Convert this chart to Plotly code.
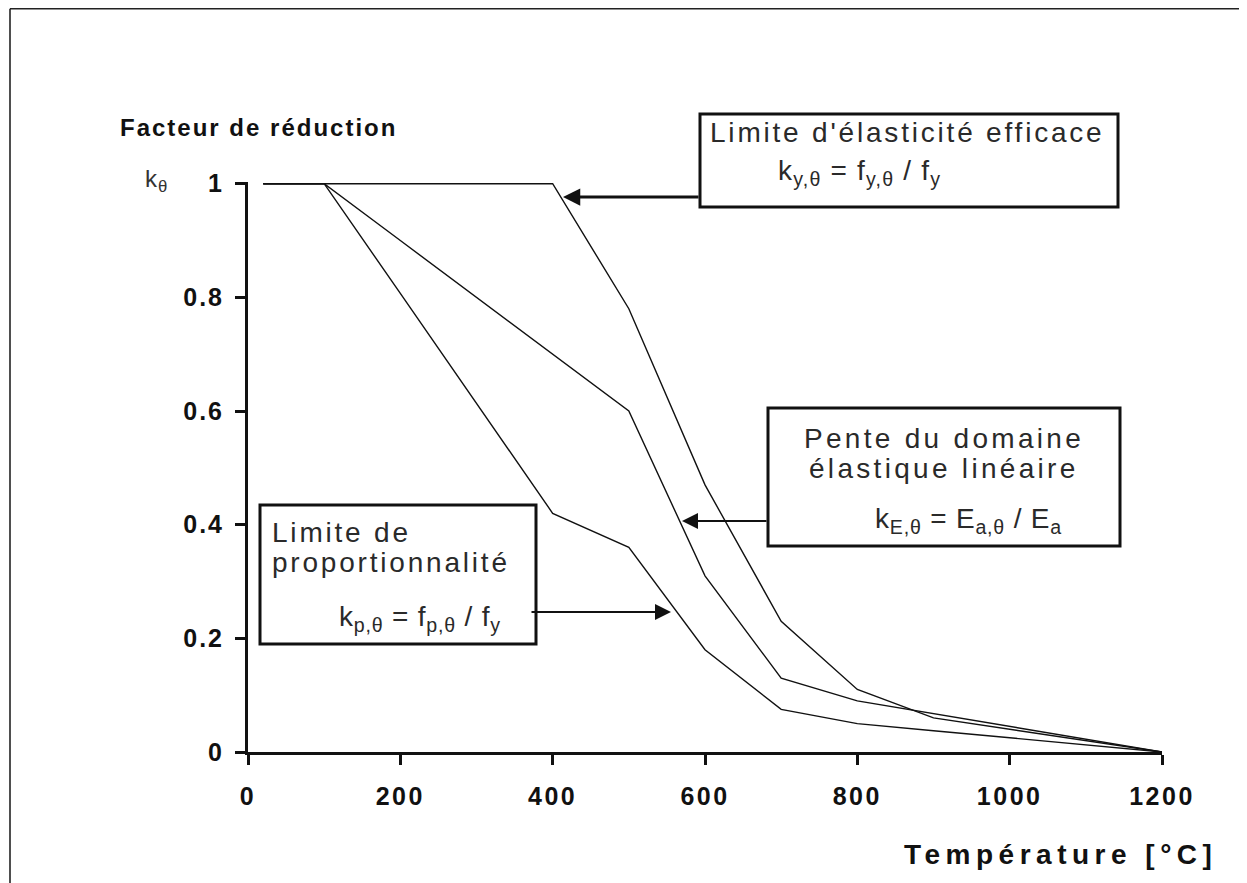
import plotly.graph_objects as go

# Eurocode 3 reduction factors for carbon steel at elevated temperature
temperatures = [20, 100, 200, 300, 400, 500, 600, 700, 800, 900, 1000, 1100, 1200]
k_y = [1.0, 1.0, 1.0, 1.0, 1.0, 0.78, 0.47, 0.23, 0.11, 0.06, 0.04, 0.02, 0.0]
k_E = [1.0, 1.0, 0.9, 0.8, 0.7, 0.6, 0.31, 0.13, 0.09, 0.0675, 0.045, 0.0225, 0.0]
k_p = [1.0, 1.0, 0.807, 0.613, 0.42, 0.36, 0.18, 0.075, 0.05, 0.0375, 0.025, 0.0125, 0.0]

x_ticks = [0, 200, 400, 600, 800, 1000, 1200]
y_ticks = [0, 0.2, 0.4, 0.6, 0.8, 1]
y_ticktext = ['0', '0.2', '0.4', '0.6', '0.8', '1']

FONT = 'Liberation Sans, Arial, sans-serif'
OFF = 8  # default body margin of the html page
PAGE_W, PAGE_H = 1247, 883
W, H = PAGE_W - OFF, PAGE_H - OFF
# plot area in page pixels
L, R, T, B = 248, 1162, 182, 752


def sp(text, ls):
    return f'<span style="letter-spacing:{ls}px">{text}</span>'


def px(x):
    return (x - L) / (R - L)


def py(y):
    return (B - y) / (B - T)


fig = go.Figure()
for vals in (k_y, k_E, k_p):
    fig.add_trace(go.Scatter(x=temperatures, y=vals, mode='lines',
                             line=dict(color='#111', width=1.4), showlegend=False))

frame_top = OFF + 0.8  # the page margin hides anything above this
shapes = [
    # outer frame (top and left only)
    dict(type='line', xref='paper', yref='paper', x0=px(10), y0=py(frame_top), x1=px(PAGE_W + 5), y1=py(frame_top),
         line=dict(color='#222', width=1.6)),
    dict(type='line', xref='paper', yref='paper', x0=px(10), y0=py(frame_top), x1=px(10), y1=py(PAGE_H + 5),
         line=dict(color='#222', width=1.6)),
]
boxes = [(700, 114, 1118, 207), (768, 408, 1120, 546), (260, 505, 536, 644)]
for x0, y0, x1, y1 in boxes:
    shapes.append(dict(type='rect', xref='paper', yref='paper', x0=px(x0), y0=py(y0), x1=px(x1), y1=py(y1),
                       line=dict(color='#111', width=3), fillcolor='white', layer='above'))

TXT = dict(size=28, color='#2a2a2a', family=FONT)
texts = [
    ("Limite d'élasticité efficace", 708, 133, 'left', 2.8),
    ('k<sub>y,θ</sub> = f<sub>y,θ</sub> / f<sub>y</sub>', 776, 173, 'left', 1.2),
    ('Pente du domaine', 944, 438, 'center', 3.3),
    ('élastique linéaire', 944, 468, 'center', 3.3),
    ('k<sub>E,θ</sub> = E<sub>a,θ</sub> / E<sub>a</sub>', 873, 520, 'left', 0.8),
    ('Limite de', 270, 532, 'left', 2.8),
    ('proportionnalité', 270, 562, 'left', 2.8),
    ('k<sub>p,θ</sub> = f<sub>p,θ</sub> / f<sub>y</sub>', 337, 618, 'left', 0.8),
]
annotations = []
for t, x, y, anchor, ls in texts:
    annotations.append(dict(text=sp(t, ls), xref='paper', yref='paper', x=px(x), y=py(y),
                            xanchor=anchor, yanchor='middle', showarrow=False, font=TXT))

# arrows: (head x, head y, tail x, width)
arrows = [(563, 197, 700, 3), (682, 521, 768, 2), (671, 612, 530, 2)]
for hx, hy, tx, w in arrows:
    annotations.append(dict(text='', xref='paper', yref='paper', x=px(hx), y=py(hy),
                            ax=tx - hx, ay=0, showarrow=True, arrowhead=2, arrowsize=1.6 if w < 3 else 1.15,
                            arrowwidth=w, arrowcolor='#111'))

TITLE = dict(size=24, color='#111', family=FONT, weight='bold')
annotations += [
    dict(text=sp('Facteur de réduction', 2), xref='paper', yref='paper', x=px(118), y=py(128),
         xanchor='left', yanchor='middle', showarrow=False, font=TITLE),
    dict(text=sp('k<sub>θ</sub>', 1), xref='paper', yref='paper', x=px(143), y=py(180),
         xanchor='left', yanchor='middle', showarrow=False, font=dict(size=24, color='#333', family=FONT)),
    dict(text=sp('Température [°C]', 5.5), xref='paper', yref='paper', x=px(902), y=py(855),
         xanchor='left', yanchor='middle', showarrow=False,
         font=dict(size=28, color='#111', family=FONT, weight='bold')),
]

TICKFONT = dict(size=25, color='#111', family=FONT, weight='bold')
fig.update_layout(
    width=W, height=H,
    margin=dict(l=L - OFF, r=W - (R - OFF), t=T - OFF, b=H - (B - OFF), pad=0),
    paper_bgcolor='white', plot_bgcolor='white',
    shapes=shapes, annotations=annotations,
    xaxis=dict(range=[0, 1200], tickvals=x_ticks, ticktext=[sp(str(v), 2.5) for v in x_ticks],
               ticks='outside', ticklen=10, tickwidth=3, tickcolor='#111',
               showline=True, linewidth=3, linecolor='#111', showgrid=False, zeroline=False,
               tickfont=TICKFONT, ticklabelstandoff=10),
    yaxis=dict(range=[0, 1.003], tickvals=y_ticks, ticktext=[sp(t, 2) for t in y_ticktext],
               ticks='outside', ticklen=10, tickwidth=3, tickcolor='#111',
               showline=True, linewidth=3, linecolor='#111', showgrid=False, zeroline=False,
               tickfont=TICKFONT, ticklabelstandoff=6),
)

fig.write_html('out.html')
